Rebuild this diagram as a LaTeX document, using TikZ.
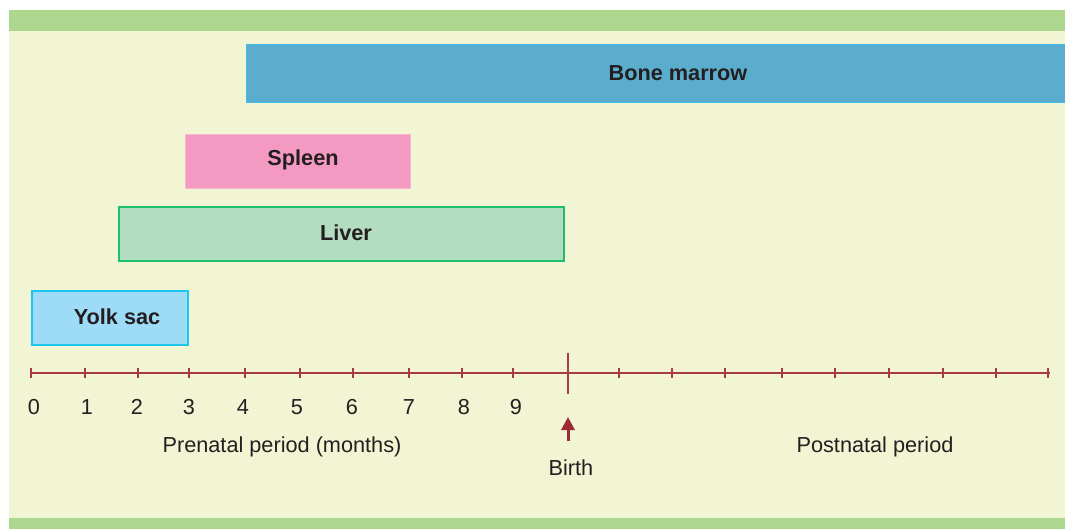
\documentclass[tikz,border=0pt]{standalone}
\usepackage{fontspec}
\setmainfont{Liberation Sans}
\usetikzlibrary{arrows.meta}
\definecolor{bandgreen}{HTML}{ADD68F}
\definecolor{panel}{HTML}{F1F5D3}
\definecolor{bmfill}{HTML}{5BADCE}
\definecolor{bmline}{HTML}{3DBDE8}
\definecolor{spfill}{HTML}{F49AC2}
\definecolor{spline}{HTML}{F7B5CF}
\definecolor{lvfill}{HTML}{B3DDC1}
\definecolor{lvline}{HTML}{1DBE6E}
\definecolor{ysfill}{HTML}{9DDBF7}
\definecolor{ysline}{HTML}{1EC5EC}
\definecolor{axisred}{HTML}{A83A44}
\definecolor{arrowred}{HTML}{9E2A35}
\definecolor{ink}{HTML}{231F20}
\tikzset{
  organ/.style={draw, rectangle, inner sep=0pt, anchor=north west},
  organlabel/.style={font=\fontsize{21.7}{26}\selectfont\bfseries, text=ink, inner sep=0pt},
  plainlabel/.style={font=\fontsize{21.7}{26}\selectfont, text=ink, inner sep=0pt},
  axisline/.style={draw=axisred, line width=1.6pt},
  tickmark/.style={draw=axisred, line width=1.4pt}
}
\begin{document}
\begin{tikzpicture}[x=1pt,y=-1pt]
\useasboundingbox (0,0) rectangle (1065,529);
\fill[white] (0,0) rectangle (1065,529);
\fill[panel] (9,31) rectangle (1065,518);
\fill[bandgreen] (9,10) rectangle (1065,31);
\fill[bandgreen] (9,518) rectangle (1065,529);
% boxes
\node[organ, fill=bmfill, draw=bmline, line width=0.8pt, minimum width=830pt, minimum height=58pt] (bm) at (246,44) {};
\node[organ, fill=spfill, draw=spline, line width=1pt, minimum width=225pt, minimum height=54pt] (sp) at (185,134) {};
\node[organ, fill=lvfill, draw=lvline, line width=1.6pt, minimum width=445pt, minimum height=54pt] (lv) at (118,206) {};
\node[organ, fill=ysfill, draw=ysline, line width=1.6pt, minimum width=156pt, minimum height=54pt] (ys) at (31,290) {};
\node[organlabel] (bmt) at (678,73) {Bone marrow};
\node[organlabel] (spt) at (303,160) {Spleen};
\node[organlabel] (lvt) at (346,233) {Liver};
\node[organlabel] (yst) at (117,317) {Yolk sac};
% axis
\coordinate (a0) at (31,373);
\coordinate (a1) at (1050,373);
\draw[axisline] (a0) -- (a1);
\foreach \x in {31,85,138,189,245,300,353,409,462,513,619,672,725,782,835,889,943,996,1048}
  \draw[tickmark] (\x,368) -- (\x,378);
\coordinate (bt) at (568,353);
\coordinate (bb) at (568,394);
\draw[tickmark] (bt) -- (bb);
% numbers
\foreach \n/\x in {0/34,1/87,2/137,3/189,4/243,5/297,6/352,7/409,8/464,9/516}
  \node[plainlabel] (n\n) at (\x,407) {\n};
% arrow
\coordinate (arrtail) at (568,441);
\coordinate (arrtip) at (568,417);
\draw[arrowred, line width=3pt, -{Triangle[length=13pt,width=13pt]}] (arrtail) -- (arrtip);
\node[plainlabel] (birth) at (571,468) {Birth};
\node[plainlabel] (pre) at (282,447) {Prenatal period (months)};
\node[plainlabel] (post) at (875,447) {Postnatal period};
\end{tikzpicture}
\end{document}
